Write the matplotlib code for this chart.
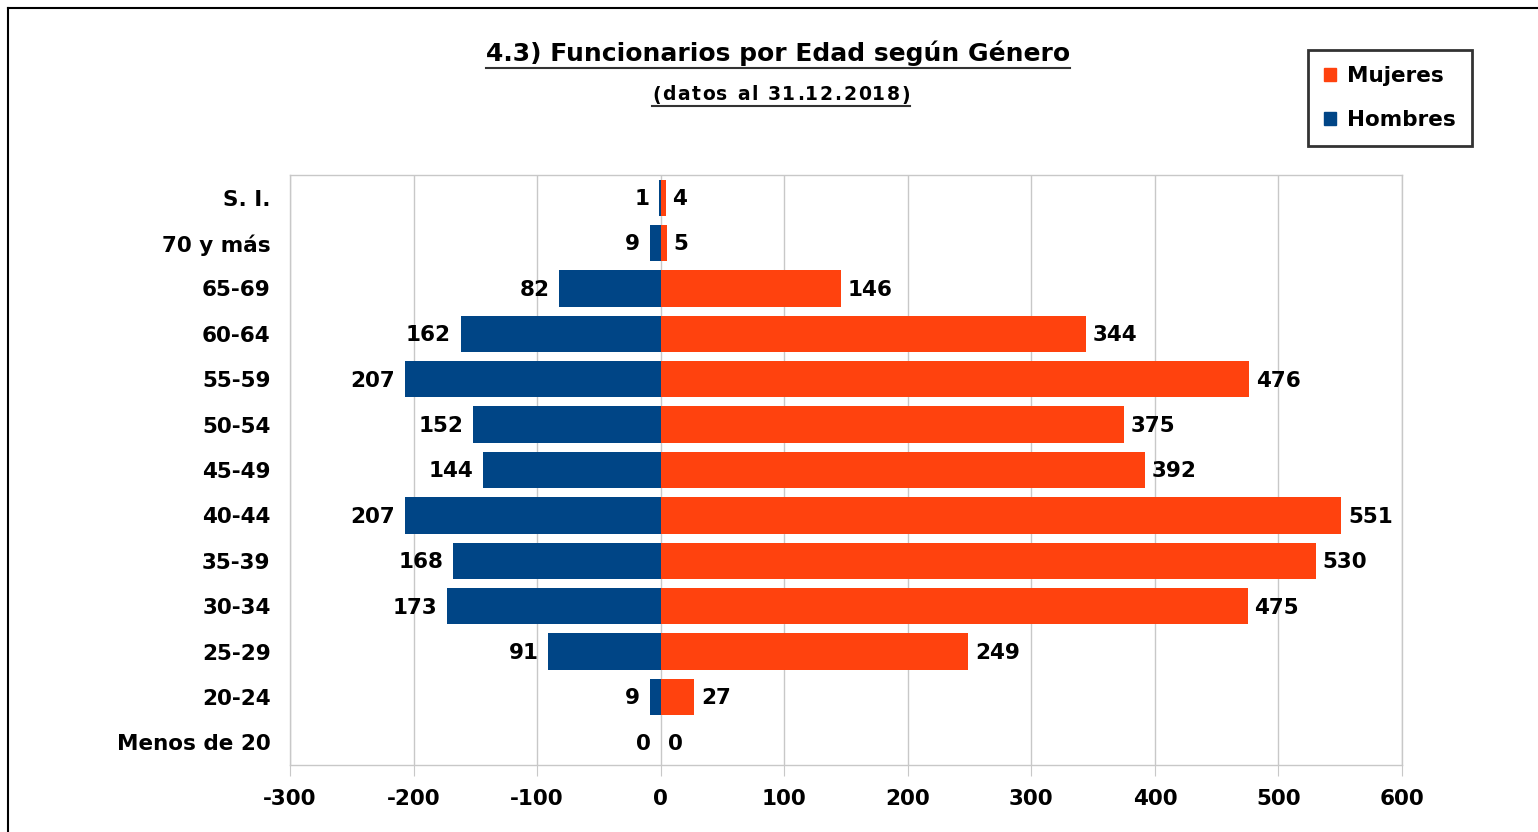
import matplotlib
matplotlib.use('Agg')

import matplotlib.pyplot as plt
from matplotlib.lines import Line2D
from matplotlib.patches import Rectangle
from matplotlib.font_manager import FontProperties

# ============================================================
# DATA
# ============================================================

edades = ["S. I.", "70 y más", "65-69", "60-64", "55-59", "50-54", "45-49",
          "40-44", "35-39", "30-34", "25-29", "20-24", "Menos de 20"]
hombres = [1, 9, 82, 162, 207, 152, 144, 207, 168, 173, 91, 9, 0]
mujeres = [4, 5, 146, 344, 476, 375, 392, 551, 530, 475, 249, 27, 0]
xticks = [-300, -200, -100, 0, 100, 200, 300, 400, 500, 600]

C_H = '#004586'
C_M = '#FF420E'
GRID = '#c8c8c8'
FS = 15.5

plt.rcParams.update({
    "font.family": "DejaVu Sans",
    "font.weight": "bold",
})

W, H = 1538, 832
fig = plt.figure(figsize=(W/100, H/100), dpi=100)
ax = fig.add_axes([290/W, 1-765/H, (1402-290)/W, (765-175)/H])

n = len(edades)
y = list(range(n))

ax.set_axisbelow(True)
ax.grid(axis='x', color=GRID, lw=1)
ax.barh(y, [-v for v in hombres], height=0.8, color=C_H, label='Hombres', zorder=3)
ax.barh(y, mujeres, height=0.8, color=C_M, label='Mujeres', zorder=3)

for yi, h, m in zip(y, hombres, mujeres):
    ax.annotate(str(h), (-h, yi), xytext=(-7, -1), textcoords='offset points',
                ha='right', va='center', fontsize=FS, fontweight='bold')
    ax.annotate(str(m), (m, yi), xytext=(5, -1), textcoords='offset points',
                ha='left', va='center', fontsize=FS, fontweight='bold')

ax.set_xlim(-300, 600)
ax.set_ylim(n - 0.5, -0.5)
ax.set_xticks(xticks)
ax.set_xticklabels([str(t) for t in xticks], fontsize=FS, fontweight='bold')
ax.set_yticks(y)
ax.set_yticklabels(edades, fontsize=FS, fontweight='bold')
ax.tick_params(axis='y', length=0, pad=14)
ax.tick_params(axis='x', length=8, color=GRID, pad=9)
for s in ax.spines.values():
    s.set_color(GRID)
    s.set_linewidth(1)

# legend
leg = fig.legend(handles=[Rectangle((0, 0), 1, 1, color=C_M),
                          Rectangle((0, 0), 1, 1, color=C_H)],
                 labels=['Mujeres', 'Hombres'],
                 loc='upper left', bbox_to_anchor=(1308/W, 1-50/H),
                 fontsize=FS, frameon=True, fancybox=False,
                 handlelength=0.55, handleheight=0.55, handletextpad=0.5,
                 labelspacing=1.1, borderpad=0.75, borderaxespad=0,
                 edgecolor='black')
leg.get_frame().set_linewidth(2)

# title
t1 = fig.text(778/W, 1-53/H, "4.3) Funcionarios por Edad según Género",
              ha='center', va='center', fontsize=18, fontweight='bold')

# outer frame (left and top edges)
fig.add_artist(Line2D([8/W, 8/W], [0, 1-8/H], color='black', lw=1.5))
fig.add_artist(Line2D([8/W, 1], [1-8/H, 1-8/H], color='black', lw=1.5))

fig.canvas.draw()
r = fig.canvas.get_renderer()

# subtitle with letter spacing
sub = "(datos al 31.12.2018)"
fp = FontProperties(family='DejaVu Sans', weight='bold', size=13.5)
track = 1.6
widths = [r.get_text_width_height_descent(c, fp, ismath=False)[0] for c in sub]
total = sum(widths) + track * (len(sub) - 1)
x0 = 781 - total / 2
xc = x0
for c, w in zip(sub, widths):
    fig.text(xc/W, 1-95/H, c, ha='left', va='center', fontproperties=fp)
    xc += w + track

# underlines
bb = t1.get_window_extent(r)
yl = (bb.y0 - 2) / H
fig.add_artist(Line2D([bb.x0/W, bb.x1/W], [yl, yl], color='#333333', lw=1.5))
yl2 = (H - 95 - 11) / H
fig.add_artist(Line2D([x0/W, (x0+total)/W], [yl2, yl2], color='#333333', lw=1.5))

fig.savefig("out.png", dpi=100)
